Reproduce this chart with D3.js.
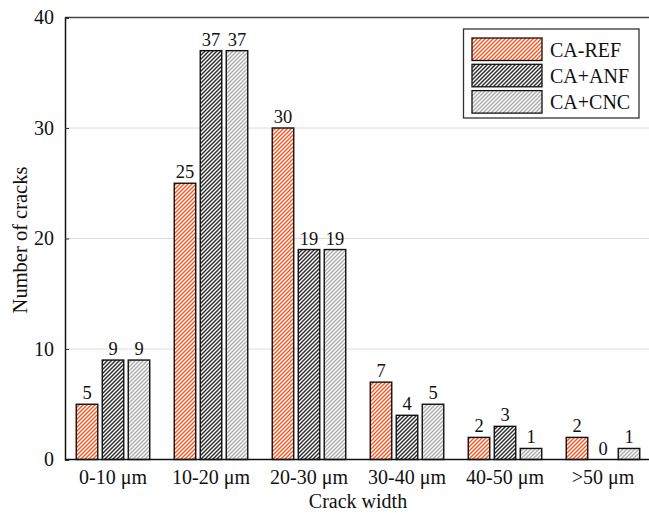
<!DOCTYPE html>
<html><head><meta charset="utf-8">
<script src="https://cdn.jsdelivr.net/npm/d3@7"></script>
<style>body{margin:0;background:#fff}svg{display:block}text{font-family:"Liberation Serif","Times New Roman",serif;fill:#111}</style>
</head><body>
<svg id="c" width="649" height="513"></svg>
<script>
const categories = ["0-10 μm","10-20 μm","20-30 μm","30-40 μm","40-50 μm",">50 μm"];
const seriesNames = ["CA-REF","CA+ANF","CA+CNC"];
const refValues = [5,25,30,7,2,2];
const anfValues = [9,37,19,4,3,0];
const cncValues = [9,37,19,5,1,1];
const yTicks = [0,10,20,30,40];
const hatchColors = ["#f05a26","#2e2e2e","#adadad"];
const seriesValues = [refValues, anfValues, cncValues];

const svg = d3.select("#c");
const m = {left:65, top:17.5, bottom:459.5, right:652};
const x = d3.scaleBand().domain(categories).range([64, 652]).paddingInner(0).paddingOuter(0);
const y = d3.scaleLinear().domain([0,40]).range([m.bottom, m.top]);

const defs = svg.append("defs");
hatchColors.forEach((c,i)=>{
  const p = defs.append("pattern").attr("id","h"+i).attr("patternUnits","userSpaceOnUse")
    .attr("width",4).attr("height",4);
  p.append("rect").attr("width",4).attr("height",4).attr("fill","#fff");
  p.append("path").attr("d","M-1,1 l2,-2 M0,4 l4,-4 M3,5 l2,-2")
    .attr("stroke",c).attr("stroke-width",1.45);
});

// gridlines
svg.append("g").selectAll("line").data(yTicks.filter(t=>t>0&&t<40)).join("line")
  .attr("x1",m.left).attr("x2",649).attr("y1",d=>y(d)).attr("y2",d=>y(d))
  .attr("stroke","#dcdcdc").attr("stroke-width",1);

// top border
svg.append("line").attr("x1",m.left).attr("x2",649).attr("y1",y(40)).attr("y2",y(40))
  .attr("stroke","#444").attr("stroke-width",1.5);

// bars
const data = [];
categories.forEach((c,ci)=>seriesNames.forEach((s,si)=>data.push({c,s,si,v:seriesValues[si][ci]})));
const bw = 21.5;
const cx = d => x(d.c) + x.bandwidth()/2 + (d.si-1)*26;
svg.append("g").selectAll("rect").data(data.filter(d=>d.v>0)).join("rect")
  .attr("x",d=>cx(d)-bw/2).attr("width",bw)
  .attr("y",d=>y(d.v)).attr("height",d=>y(0)-y(d.v))
  .attr("fill",d=>`url(#h${d.si})`).attr("stroke","#111").attr("stroke-width",1.4);

svg.append("g").selectAll("text").data(data).join("text")
  .attr("x",d=>cx(d)).attr("y",d=>y(d.v)-5).attr("text-anchor","middle")
  .attr("font-size",18.5).text(d=>d.v);

// y axis
const yAxis = svg.append("g").attr("transform",`translate(${m.left},0)`)
  .call(d3.axisLeft(y).tickValues(yTicks).tickSize(-4).tickPadding(11));
yAxis.select(".domain").attr("stroke","#111").attr("stroke-width",1.5);
yAxis.selectAll(".tick line").attr("stroke","#333");
yAxis.selectAll("text").attr("font-size",20).attr("font-family","Liberation Serif").attr("fill","#111");

// x axis
const xAxis = svg.append("g").attr("transform",`translate(0,${m.bottom})`)
  .call(d3.axisBottom(x).tickSize(0).tickPadding(10));
xAxis.select(".domain").attr("d",`M${m.left},0H652`).attr("stroke","#111").attr("stroke-width",1.5);
xAxis.selectAll("text").attr("font-size",20).attr("font-family","Liberation Serif").attr("fill","#111");

svg.append("text").attr("x",x(categories[0])+3*x.bandwidth()).attr("y",508).attr("text-anchor","middle")
  .attr("font-size",20).text("Crack width");
svg.append("text").attr("transform","translate(27,240) rotate(-90)").attr("text-anchor","middle")
  .attr("font-size",20.5).text("Number of cracks");

// legend
const lg = svg.append("g");
lg.append("rect").attr("x",463.5).attr("y",29).attr("width",175.5).attr("height",89)
  .attr("fill","#fff").attr("stroke","#333").attr("stroke-width",1.3);
seriesNames.forEach((s,i)=>{
  lg.append("rect").attr("x",472).attr("y",38+i*26.3).attr("width",70).attr("height",22.5)
    .attr("fill",`url(#h${i})`).attr("stroke","#111").attr("stroke-width",1.3);
  lg.append("text").attr("x",550).attr("y",56.5+i*26.3).attr("font-size",20).text(s);
});
</script>
</body></html>
